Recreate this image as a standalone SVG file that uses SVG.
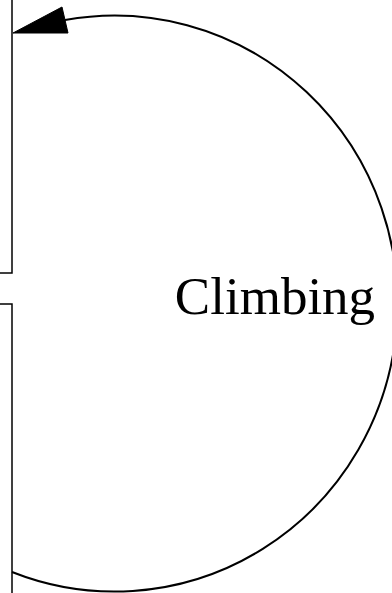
<svg xmlns="http://www.w3.org/2000/svg" width="392" height="593" viewBox="0 0 392 593">
<style>
.box{fill:none;stroke:#000;stroke-width:1.5}
.edge{fill:none;stroke:#000;stroke-width:2}
.head{fill:#000;stroke:#000;stroke-width:1}
.lbl{font-family:"Liberation Serif","Times New Roman",serif;font-size:53px;fill:#000}
</style>
<rect width="392" height="593" fill="#fff"/>
<g id="node-top"><rect class="box" x="-20" y="-20" width="32" height="293"/></g>
<g id="node-bottom"><rect class="box" x="-20" y="304" width="32" height="310"/></g>
<g id="connectors">
<path class="edge" d="M 12 572 A 283 288 0 1 0 65 20"/>
<polygon class="head" points="13,33 62,7 68,33"/>
<text class="lbl" x="275" y="314" text-anchor="middle">Climbing</text>
</g>
</svg>
